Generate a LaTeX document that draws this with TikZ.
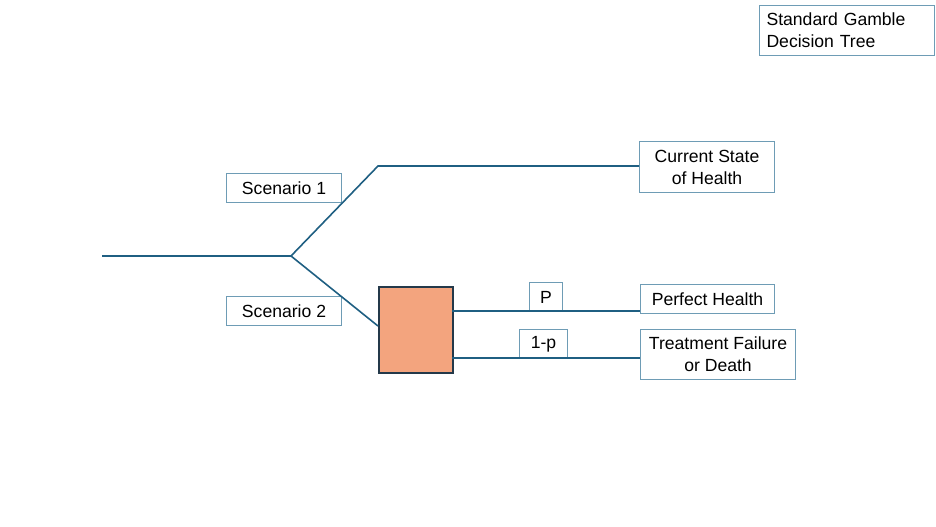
\documentclass[tikz,border=0pt]{standalone}
\usepackage{fontspec}
\setmainfont{Liberation Sans}
\definecolor{linec}{HTML}{1F5F82}
\definecolor{boxc}{HTML}{6E9CB5}
\definecolor{sqfill}{HTML}{F3A47E}
\definecolor{sqdraw}{HTML}{24394A}
\begin{document}
\begin{tikzpicture}[x=0.75pt,y=-0.75pt,
  lbl/.style={draw=boxc,line width=0.8pt,fill=white,font=\fontsize{13.2}{16.5}\selectfont,align=center,inner sep=0pt,anchor=north west},
  conn/.style={draw=linec,line width=1.2pt}]
\useasboundingbox (0,0) rectangle (936,526);
% title
\node[lbl,text width=161*0.75pt,inner xsep=7*0.75pt,minimum height=50*0.75pt,align=left] (title) at (759,5) {Standard Gamble\\Decision Tree};
% scenario labels
\node[lbl,minimum width=115*0.75pt,minimum height=29*0.75pt] (s1) at (226,173) {Scenario 1};
\node[lbl,minimum width=115*0.75pt,minimum height=29*0.75pt] (s2) at (226,296) {Scenario 2};
% outcomes
\node[lbl,minimum width=135*0.75pt,minimum height=51*0.75pt] (cur) at (639,141) {Current State\\of Health};
\node[lbl,minimum width=134*0.75pt,minimum height=29*0.75pt] (ph) at (640,284) {Perfect Health};
\node[lbl,minimum width=155*0.75pt,minimum height=50*0.75pt] (tf) at (640,329) {Treatment Failure\\or Death};
% probability labels
\node[lbl,minimum width=33*0.75pt,minimum height=29*0.75pt] (p) at (529,282) {P};
\node[lbl,minimum width=48*0.75pt,minimum height=29*0.75pt] (q) at (519,329) {1-p};
% coordinates
\coordinate (start) at (102,256);
\coordinate (fork) at (291,256);
\coordinate (bend) at (378,166);
% square
\node[draw=sqdraw,fill=sqfill,line width=1.2pt,minimum width=74*0.75pt,minimum height=86*0.75pt,inner sep=0pt,anchor=north west] (sq) at (378,286) {};
\coordinate (sqa) at (452,311);
\coordinate (sqb) at (452,358);
\coordinate (sqin) at (378,326);
% connectors
\draw[conn] (start) -- (fork) -- (bend) -- (bend -| cur.west);
\draw[conn] (fork) -- (sqin);
\draw[conn] (sqa) -- (sqa -| ph.west);
\draw[conn] (sqb) -- (sqb -| tf.west);
\end{tikzpicture}
\end{document}
